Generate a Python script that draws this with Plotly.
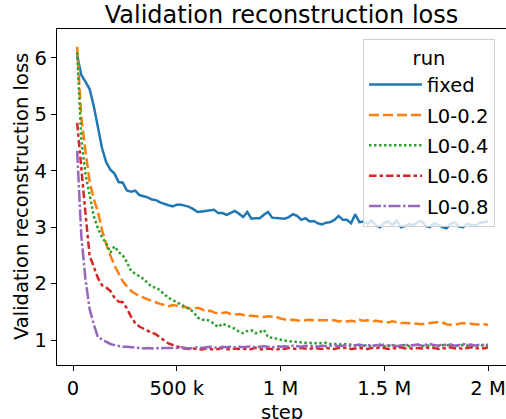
import plotly.graph_objects as go

steps = list(range(20000, 2000001, 20000))

fixed = [6.05,5.70,5.58,5.45,5.15,4.80,4.40,4.15,4.02,3.95,
         3.80,3.79,3.65,3.63,3.65,3.57,3.55,3.53,3.49,3.48,
         3.44,3.41,3.39,3.37,3.40,3.40,3.38,3.36,3.32,3.27,
         3.28,3.29,3.31,3.31,3.25,3.25,3.22,3.25,3.29,3.24,
         3.18,3.27,3.15,3.16,3.16,3.22,3.27,3.17,3.16,3.16,
         3.15,3.18,3.23,3.20,3.13,3.16,3.10,3.11,3.07,3.05,
         3.08,3.09,3.13,3.20,3.13,3.13,3.07,3.23,3.09,3.10,
         3.06,3.12,3.03,3.00,3.08,3.10,3.04,3.12,3.00,3.02,
         3.06,3.03,3.09,3.11,3.02,3.00,3.07,3.04,3.00,2.98,
         3.06,3.09,3.01,3.00,3.06,3.04,3.03,3.08,3.09,3.10]

l0_02 = [6.20,4.95,4.35,3.82,3.50,3.28,2.95,2.70,2.50,2.32,
         2.18,2.04,1.95,1.87,1.82,1.78,1.75,1.72,1.69,1.66,
         1.64,1.62,1.60,1.62,1.61,1.58,1.59,1.56,1.55,1.57,
         1.55,1.50,1.52,1.49,1.47,1.48,1.49,1.46,1.45,1.46,
         1.44,1.43,1.43,1.42,1.41,1.41,1.42,1.41,1.41,1.38,
         1.37,1.35,1.36,1.35,1.34,1.35,1.36,1.35,1.35,1.34,
         1.35,1.35,1.35,1.33,1.34,1.33,1.34,1.33,1.36,1.34,
         1.35,1.33,1.34,1.33,1.32,1.31,1.33,1.31,1.30,1.30,
         1.30,1.29,1.29,1.28,1.29,1.30,1.31,1.32,1.31,1.28,
         1.27,1.27,1.29,1.30,1.29,1.29,1.28,1.27,1.28,1.27]

l0_04 = [6.10,4.55,3.95,3.55,3.20,2.98,2.82,2.72,2.55,2.66,
         2.56,2.50,2.38,2.22,2.18,2.13,2.08,2.01,1.94,1.93,
         1.88,1.81,1.75,1.71,1.67,1.64,1.59,1.55,1.50,1.40,
         1.36,1.36,1.34,1.28,1.23,1.29,1.26,1.22,1.20,1.15,
         1.12,1.16,1.17,1.12,1.14,1.18,1.05,1.04,1.02,1.00,
         0.99,0.98,0.97,0.96,0.95,0.95,0.95,0.94,0.95,0.94,
         0.95,0.93,0.93,0.92,0.93,0.92,0.91,0.91,0.90,0.90,
         0.91,0.89,0.90,0.92,0.89,0.90,0.91,0.88,0.90,0.91,
         0.89,0.90,0.92,0.90,0.89,0.91,0.90,0.89,0.91,0.90,
         0.92,0.89,0.90,0.91,0.90,0.89,0.91,0.90,0.91,0.90]

l0_06 = [4.85,4.00,3.25,2.50,2.28,2.10,1.97,1.93,1.87,1.75,
         1.68,1.67,1.56,1.41,1.30,1.24,1.20,1.16,1.13,1.10,
         1.04,0.99,0.94,0.91,0.88,0.86,0.85,0.84,0.85,0.84,
         0.83,0.85,0.84,0.83,0.84,0.86,0.84,0.83,0.85,0.84,
         0.85,0.83,0.84,0.86,0.84,0.83,0.85,0.84,0.83,0.85,
         0.84,0.86,0.85,0.84,0.86,0.85,0.84,0.86,0.85,0.84,
         0.86,0.85,0.84,0.86,0.85,0.87,0.84,0.85,0.86,0.85,
         0.84,0.86,0.85,0.87,0.85,0.84,0.86,0.85,0.87,0.85,
         0.86,0.84,0.86,0.85,0.87,0.85,0.86,0.84,0.86,0.85,
         0.87,0.85,0.86,0.84,0.86,0.87,0.85,0.86,0.85,0.87]

l0_08 = [4.35,2.85,2.08,1.55,1.28,1.05,1.01,0.97,0.93,0.91,
         0.89,0.88,0.88,0.87,0.86,0.86,0.85,0.86,0.85,0.86,
         0.85,0.86,0.86,0.85,0.86,0.87,0.86,0.85,0.86,0.87,
         0.86,0.87,0.88,0.87,0.86,0.88,0.87,0.88,0.87,0.88,
         0.87,0.88,0.89,0.87,0.88,0.89,0.88,0.87,0.89,0.88,
         0.89,0.88,0.90,0.89,0.88,0.90,0.89,0.90,0.88,0.90,
         0.89,0.90,0.91,0.89,0.90,0.91,0.89,0.90,0.92,0.90,
         0.91,0.89,0.91,0.90,0.92,0.90,0.91,0.89,0.91,0.92,
         0.90,0.91,0.92,0.90,0.91,0.93,0.91,0.90,0.92,0.91,
         0.92,0.90,0.91,0.93,0.91,0.92,0.90,0.92,0.91,0.92]

run_names = ["fixed", "L0-0.2", "L0-0.4", "L0-0.6", "L0-0.8"]
series = [fixed, l0_02, l0_04, l0_06, l0_08]
colors = ["#1f77b4", "#ff7f0e", "#2ca02c", "#d62728", "#9467bd"]
dashes = ["solid", "10px,4px", "2.5px,2.5px", "7.5px,3px,3.5px,3px", "12px,2.5px,2.5px,2.5px"]

x_tickvals = [0, 500000, 1000000, 1500000, 2000000]
x_ticktext = ["0", "500 k", "1 M", "1.5 M", "2 M"]
y_tickvals = [1, 2, 3, 4, 5, 6]

FONT = "DejaVu Sans"
FS = 19.5

fig = go.Figure()
for name, ys, c, d in zip(run_names, series, colors, dashes):
    fig.add_trace(go.Scatter(
        x=steps, y=ys, name=name, mode="lines", legendgroup=name,
        line=dict(color=c, width=2.5, dash=d),
    ))

fig.update_layout(
    width=506, height=419,
    margin=dict(l=57, r=0, t=29, b=54, autoexpand=False),
    paper_bgcolor="white", plot_bgcolor="white",
    font=dict(family=FONT, size=FS, color="black"),
    title=dict(text="Validation reconstruction loss", x=0.5, xanchor="center",
               xref="paper", y=1 - 15 / 419, yref="container", yanchor="middle",
               font=dict(size=24, family=FONT, color="black")),
    showlegend=True,
    legend=dict(
        x=0.6815, y=0.97, xanchor="left", yanchor="top",
        bgcolor="rgba(255,255,255,0.8)", bordercolor="#d0d0d0", borderwidth=1,
        font=dict(size=FS, family=FONT, color="black"),
        title=dict(text="run", side="top center", font=dict(size=FS, family=FONT)),
        tracegroupgap=2,
        itemwidth=53,
        entrywidth=72,
    ),
    xaxis=dict(
        range=[-77108, 2086747], tickvals=x_tickvals, ticktext=x_ticktext,
        automargin=False,
        showgrid=False, zeroline=False, showline=True, linecolor="black", linewidth=1.25,
        mirror=True, ticks="outside", ticklen=5, tickwidth=1.25, tickcolor="black",
        tickfont=dict(size=FS, family=FONT),
    ),
    yaxis=dict(
        range=[0.557, 6.514], tickvals=y_tickvals,
        automargin=False,
        showgrid=False, zeroline=False, showline=True, linecolor="black", linewidth=1.25,
        ticks="outside", ticklen=5, tickwidth=1.25, tickcolor="black",
        tickfont=dict(size=FS, family=FONT),
    ),
    annotations=[
        dict(text="step", xref="paper", yref="paper", x=0.5, y=-(412 - 365) / 336,
             xanchor="center", yanchor="middle", showarrow=False,
             font=dict(size=FS, family=FONT, color="black")),
        dict(text="Validation reconstruction loss", xref="paper", yref="paper",
             x=-(57 - 21) / 449, y=0.5, xanchor="center", yanchor="middle",
             textangle=-90, showarrow=False,
             font=dict(size=FS, family=FONT, color="black")),
    ],
)

fig.write_html("out.html", config={"displayModeBar": False},
               post_script="document.body.style.margin='0';document.body.style.overflow='hidden';")
